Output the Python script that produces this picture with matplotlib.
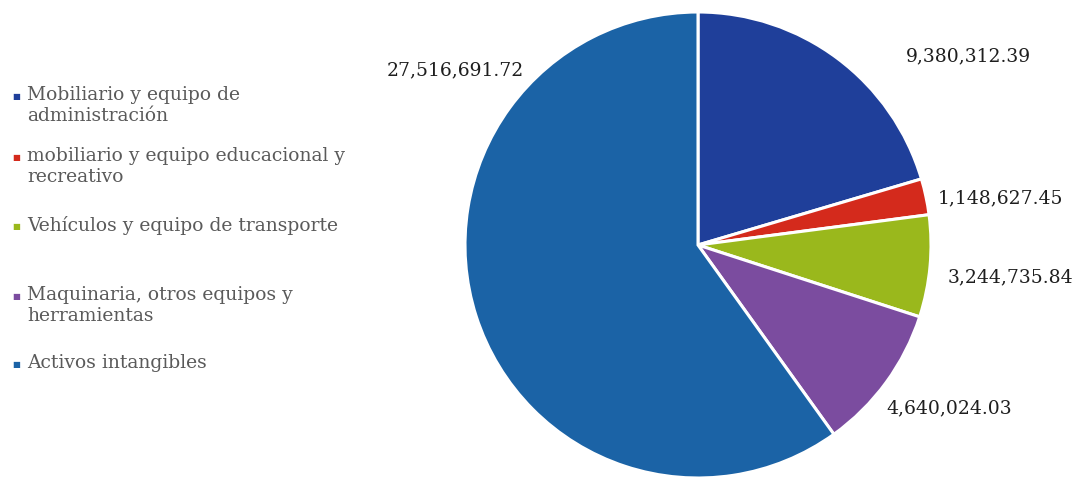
import matplotlib
matplotlib.use('Agg')
import matplotlib.pyplot as plt
import numpy as np

plt.rcParams['font.family'] = ['DejaVu Serif']

categorias = ['Mobiliario y equipo de\nadministración',
              'mobiliario y equipo educacional y\nrecreativo',
              'Vehículos y equipo de transporte',
              'Maquinaria, otros equipos y\nherramientas',
              'Activos intangibles']
valores = [9380312.39, 1148627.45, 3244735.84, 4640024.03, 27516691.72]
colores = ['#1f3f9a', '#d42a1c', '#9ab81c', '#7b4c9f', '#1b63a6']

# where the value labels sit (pie radius units) and legend rows (figure px from top)
pos_etiquetas = [(1.16, 0.81), (1.30, 0.20), (1.34, -0.14), (1.08, -0.70), (-1.04, 0.75)]
filas_leyenda = [97, 158, 227, 297, 365]

W, H = 1084, 482
fig = plt.figure(figsize=(W / 100, H / 100), dpi=100)

cx, cy, r = 698, 245, 233
ax = fig.add_axes([(cx - r) / W, (H - cy - r) / H, 2 * r / W, 2 * r / H])
ax.pie(valores, colors=colores, startangle=90, counterclock=False,
       wedgeprops=dict(edgecolor='white', linewidth=2.2))
ax.set_xlim(-1, 1)
ax.set_ylim(-1, 1)
ax.set_aspect('auto')

for v, (x, y) in zip(valores, pos_etiquetas):
    ax.text(x, y, f'{v:,.2f}', ha='center', va='center', fontsize=13.5,
            color='#1e1e1e', clip_on=False)

for cat, col, fy in zip(categorias, colores, filas_leyenda):
    fig.text(12 / W, 1 - fy / H, '■', color=col, fontsize=6, ha='left', va='center')
    fig.text(27 / W, 1 - (fy - 11) / H, cat, color='#5a5a5a', fontsize=13.5,
             ha='left', va='top', linespacing=1.2)

fig.savefig('out.png', dpi=100)
